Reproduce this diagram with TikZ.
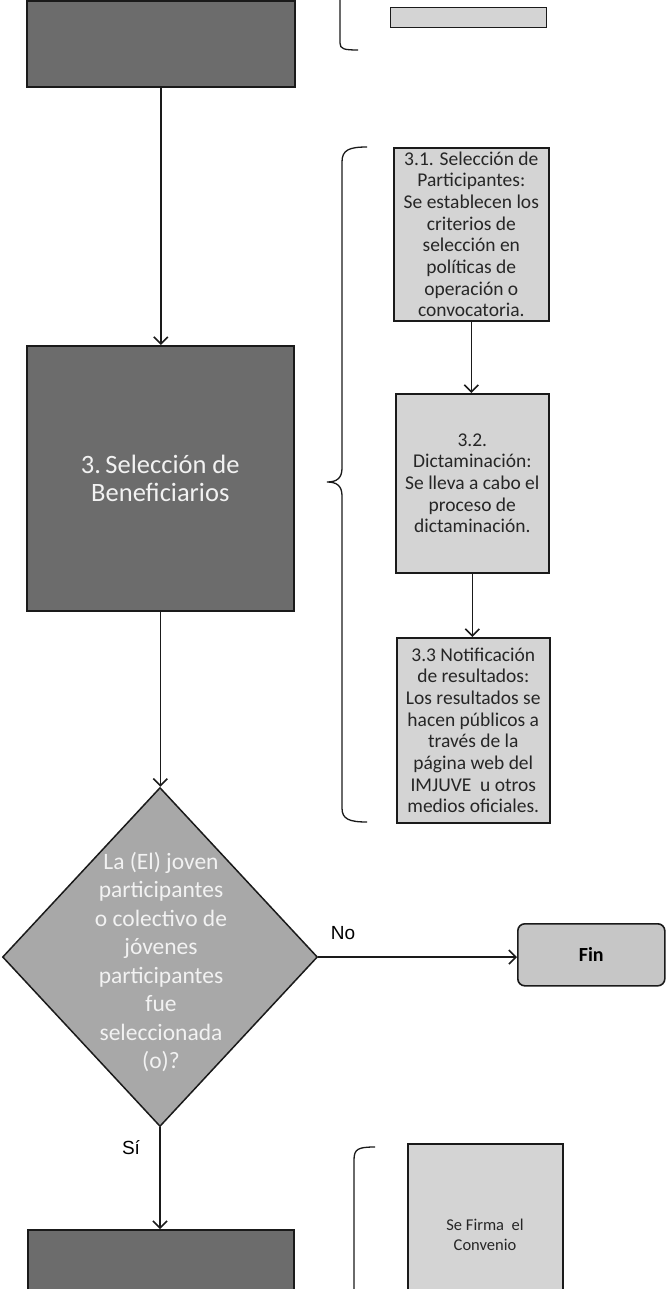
\documentclass[tikz,border=0pt]{standalone}
\usepackage{fontspec}
\setmainfont{Carlito}
\newfontfamily\arialf{Liberation Sans}
\usetikzlibrary{arrows.meta,shapes.geometric}
\definecolor{darkfill}{HTML}{6C6C6C}
\definecolor{diafill}{HTML}{A8A8A8}
\definecolor{lightfill}{HTML}{D4D4D4}
\definecolor{finfill}{HTML}{C6C6C6}
\definecolor{lineclr}{HTML}{1A1A1A}
\begin{document}
\begin{tikzpicture}[x=1pt,y=-1pt,
  darkbox/.style={draw=lineclr,line width=1.6pt,fill=darkfill,inner sep=0pt,anchor=north west},
  lightbox/.style={draw=lineclr,line width=1.6pt,fill=lightfill,inner sep=0pt,anchor=north west},
  boxtext/.style={align=center,inner sep=0pt,text=black!85,font=\fontsize{19.5}{21.7}\selectfont},
  arr/.style={draw=lineclr,line width=1.5pt,-{Straight Barb[length=7pt,width=14pt,line width=1.6pt]}},
  brace/.style={draw=lineclr,line width=1.3pt},
  lbl/.style={font=\arialf\fontsize{19}{21}\selectfont,inner sep=0pt}]
\useasboundingbox (0,0) rectangle (666,1289);

% top (cut) dark box
\node[darkbox,minimum width=268,minimum height=86] (top) at (26,0) {};
% top right small light box
\node[lightbox,minimum width=156,minimum height=20,line width=1.2pt] (toplight) at (390,7) {};
% top bracket
\draw[brace] (340,0) -- (340,43) .. controls (340,49) and (344,50) .. (358,50);

% 3. Selección de Beneficiarios
\node[darkbox,minimum width=267,minimum height=265] (b3) at (26,345) {};
\node[align=center,inner sep=0pt,text=black!5,font=\fontsize{26.5}{28}\selectfont] (b3t) at (b3.center) {3.\,Selección de\\Beneficiarios};

% sub boxes
\node[lightbox,minimum width=155,minimum height=173] (s31) at (393,147) {};
\node[boxtext] (s31t) at (s31.center) {3.1. Selección de\\Participantes:\\Se establecen los\\criterios de\\selección en\\políticas de\\operación o\\convocatoria.};
\node[lightbox,minimum width=153,minimum height=179] (s32) at (395,393) {};
\node[boxtext] (s32t) at (s32.center) {3.2.\\Dictaminación:\\Se lleva a cabo el\\proceso de\\dictaminación.};
\node[lightbox,minimum width=153,minimum height=185] (s33) at (396,637) {};
\node[boxtext] (s33t) at (s33.center) {3.3 Notificación\\de resultados:\\Los resultados se\\hacen públicos a\\través de la\\página web del\\IMJUVE\ \ u otros\\medios oficiales.};

% brace
\draw[brace] (367,147) .. controls (349,147) and (342,150) .. (342,162) -- (342,468)
  .. controls (342,478) and (337,482) .. (327,482)
  .. controls (337,482) and (342,486) .. (342,496) -- (342,808)
  .. controls (342,819) and (349,822) .. (367,822);

% decision diamond
\node[diamond,draw=lineclr,line width=1.5pt,fill=diafill,minimum width=315,minimum height=339,inner sep=0pt] (dec) at (160,957) {};
\node[align=center,inner sep=0pt,text=black!5,font=\fontsize{23.5}{28.5}\selectfont] (dect) at (161,962) {La (El) joven\\participantes\\o colectivo de\\jóvenes\\participantes\\fue\\seleccionada\\(o)?};

% Fin
\node[draw=lineclr,line width=1.6pt,fill=finfill,rounded corners=7pt,minimum width=147,minimum height=62,inner sep=0pt,anchor=north west,font=\bfseries\fontsize{20}{24}\selectfont] (fin) at (517,923) {Fin};

% bottom dark box
\node[darkbox,minimum width=266,minimum height=70] (bot) at (27,1229) {};
% bottom right light box
\node[lightbox,minimum width=155,minimum height=160] (firma) at (407,1143) {};
\node[align=center,inner sep=0pt,text=black!85,font=\fontsize{16.5}{20}\selectfont] (firmat) at (485,1235) {Se Firma\ \ el\\Convenio};
% bottom bracket
\draw[brace] (375,1147) .. controls (358,1147) and (354,1149) .. (354,1160) -- (354,1289);

% connectors
\draw[arr] (top.south) -- (top.south |- b3.north);
\draw[arr] (s31.south) -- (s31.south |- s32.north);
\draw[arr] (s32.south) -- (s32.south |- s33.north);
\draw[arr] (b3.south) -- (b3.south |- dec.north);
\draw[arr] (dec.east) -- (fin.west |- dec.east);
\node[lbl] (nolab) at (343,933) {No};
\draw[arr] (dec.south) -- (dec.south |- bot.north);
\node[lbl] (silab) at (131,1148) {Sí};
\end{tikzpicture}
\end{document}
